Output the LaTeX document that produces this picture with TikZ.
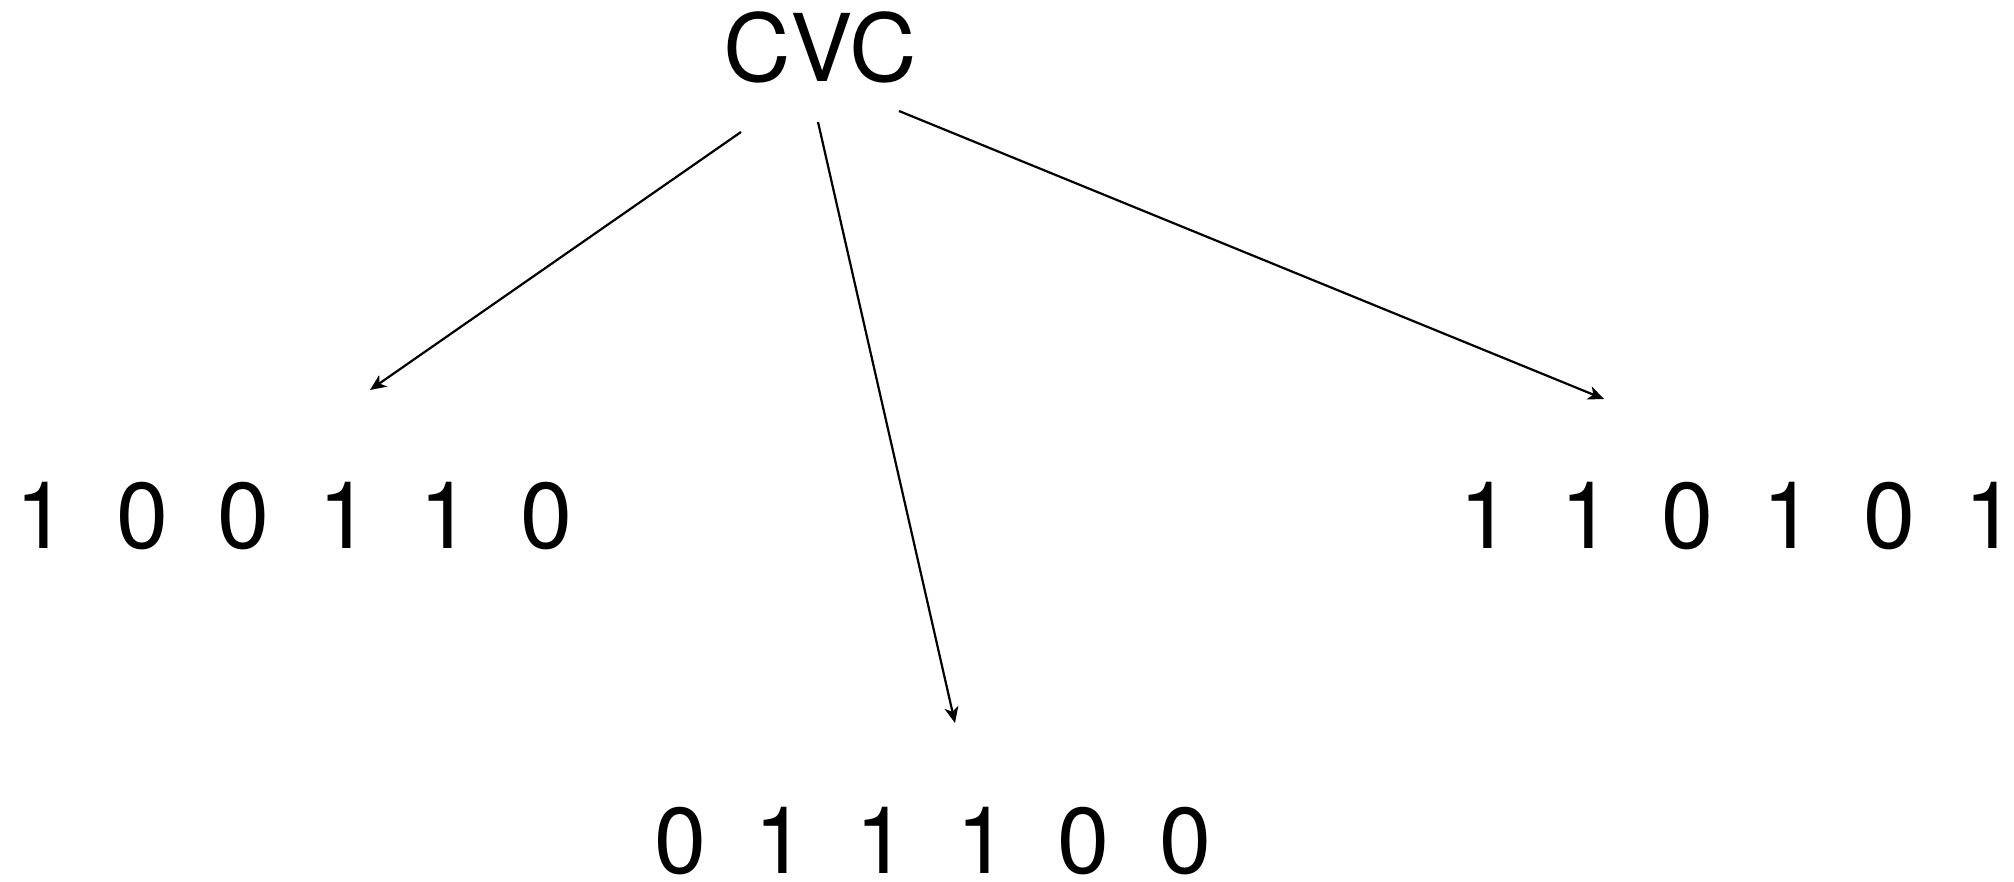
\documentclass[tikz,border=0pt]{standalone}
\usepackage{fontspec}
\setmainfont{TeX Gyre Heros}
\usetikzlibrary{arrows.meta}

% one digit in a fixed-width cell
\newcommand{\bitcell}[1]{\makebox[101pt]{#1}}
\newcommand{\bitrow}[6]{\bitcell{#1}\bitcell{#2}\bitcell{#3}\bitcell{#4}\bitcell{#5}\bitcell{#6}}

\begin{document}
\begin{tikzpicture}[x=1pt, y=-1pt,
  label text/.style={inner sep=0pt, anchor=base, font=\fontsize{93.5}{112}\selectfont},
  link/.style={line width=2.2pt, -{Stealth[length=16pt, width=14pt, inset=4.5pt]}}]
  \useasboundingbox (0,0) rectangle (2014,882);

  % root word
  \node[label text] (cvc) at (820,81.5) {CVC};

  % bit strings
  \node[label text] (left)   at (293.7,548.3) {\bitrow{1}{0}{0}{1}{1}{0}};
  \node[label text] (bottom) at (932.5,873)   {\bitrow{0}{1}{1}{1}{0}{0}};
  \node[label text] (right)  at (1738,548.3)  {\bitrow{1}{1}{0}{1}{0}{1}};

  % connector end points
  \coordinate (s1) at (741,132);
  \coordinate (s2) at (818,122);
  \coordinate (s3) at (899,111);
  \coordinate (e1) at (370,390);
  \coordinate (e2) at (955,723);
  \coordinate (e3) at (1604,399);

  \draw[link] (s1) -- (e1);
  \draw[link] (s2) -- (e2);
  \draw[link] (s3) -- (e3);
\end{tikzpicture}
\end{document}
